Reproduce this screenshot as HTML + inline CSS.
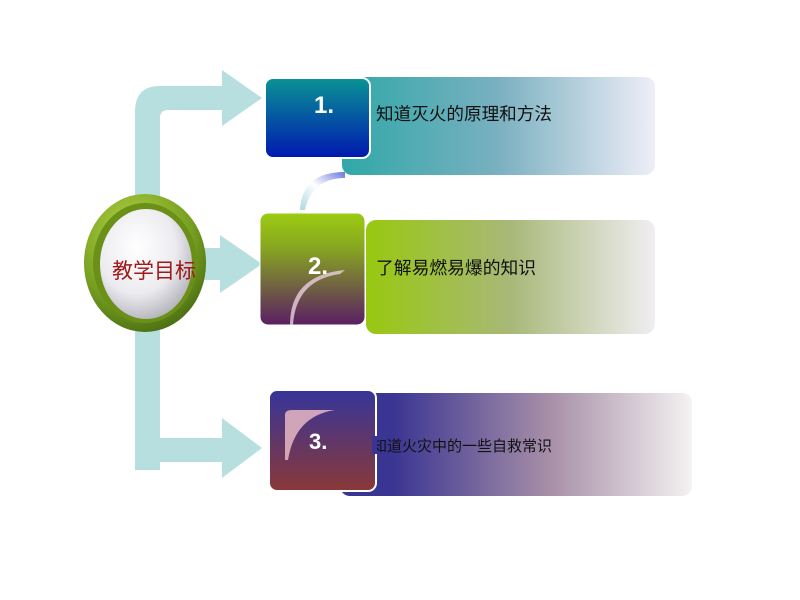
<!DOCTYPE html>
<html><head><meta charset="utf-8"><style>
body{margin:0;background:#fff;}
svg{display:block;}
text{font-family:"Liberation Sans","Noto Sans CJK SC",sans-serif;}
</style></head><body>
<svg width="800" height="600" viewBox="0 0 800 600" xmlns="http://www.w3.org/2000/svg">
<defs>
<linearGradient id="b1" x1="0" x2="1" y1="0" y2="0"><stop offset="0" stop-color="#30a8a8"/><stop offset="0.5" stop-color="#7ab0c0"/><stop offset="1" stop-color="#eeeef8"/></linearGradient>
<linearGradient id="b2" x1="0" x2="1" y1="0" y2="0"><stop offset="0" stop-color="#98c810"/><stop offset="0.5" stop-color="#a8b878"/><stop offset="1" stop-color="#f0eef2"/></linearGradient>
<linearGradient id="b3" x1="0" x2="1" y1="0" y2="0"><stop offset="0" stop-color="#3a3592"/><stop offset="0.15" stop-color="#3a3592"/><stop offset="0.6" stop-color="#a890a8"/><stop offset="1" stop-color="#f4f2f2"/></linearGradient>
<linearGradient id="t1" x1="0" x2="0" y1="0" y2="1"><stop offset="0" stop-color="#0a9494"/><stop offset="1" stop-color="#0018b0"/></linearGradient>
<linearGradient id="t2" x1="0" x2="0" y1="0" y2="1"><stop offset="0" stop-color="#9ccc10"/><stop offset="0.3" stop-color="#88a820"/><stop offset="1" stop-color="#5a1e62"/></linearGradient>
<linearGradient id="t3" x1="0" x2="0" y1="0" y2="1"><stop offset="0" stop-color="#36359a"/><stop offset="1" stop-color="#8a3838"/></linearGradient>
<radialGradient id="eg" cx="0.4" cy="0.35" r="0.7"><stop offset="0" stop-color="#ffffff"/><stop offset="0.6" stop-color="#ececf0"/><stop offset="1" stop-color="#b0b0b8"/></radialGradient>
<radialGradient id="rg" cx="0.4" cy="0.3" r="0.8"><stop offset="0" stop-color="#b8d848"/><stop offset="0.6" stop-color="#78a020"/><stop offset="1" stop-color="#3e6010"/></radialGradient>
<linearGradient id="cn" x1="0" x2="1" y1="1" y2="0"><stop offset="0" stop-color="#b0d8e0"/><stop offset="0.5" stop-color="#ffffff"/><stop offset="1" stop-color="#6878e0"/></linearGradient>
</defs>
<g fill="#b8dfe0">
<path d="M135 470 L135 112 Q135 86 160 86 L225 86 L225 110 L168 110 Q160 110 160 118 L160 470 Z"/>
<path d="M222 70 L262 98 L222 126 Z"/>
<rect x="190" y="248" width="34" height="32"/>
<path d="M220 235 L262 264 L220 293 Z"/>
<path d="M135 300 L135 440 Q135 462 158 462 L225 462 L225 438 L160 438 L160 300 Z"/>
<path d="M222 418 L262 448 L222 478 Z"/>
</g>
<ellipse cx="145" cy="263" rx="61" ry="69" fill="url(#rg)"/>
<ellipse cx="145" cy="263" rx="52" ry="60" fill="#6a9018"/>
<ellipse cx="146" cy="264" rx="46" ry="55" fill="url(#eg)"/>
<text x="112" y="278" font-size="21" fill="#a01818">教学目标</text>
<rect x="342" y="77" width="313" height="98" rx="10" fill="url(#b1)"/>
<rect x="265" y="78" width="105" height="80" rx="8" fill="url(#t1)" stroke="#fff" stroke-width="2"/>
<text x="314" y="113" font-size="24" font-weight="bold" fill="#fff">1.</text>
<text x="376" y="120" font-size="17.6" fill="#111">知道灭火的原理和方法</text>
<path d="M300 210 Q302 172 345 172 L345 178 Q312 178 305 210 Z" fill="url(#cn)"/>
<rect x="366" y="220" width="289" height="114" rx="10" fill="url(#b2)"/>
<rect x="260" y="213" width="105" height="112" rx="8" fill="url(#t2)" stroke="#fff" stroke-width="1"/>
<path d="M290 325 Q290 275 345 270 L340 274 Q296 280 293 325 Z" fill="#e8d0e0" opacity="0.8"/>
<text x="308" y="274" font-size="24" font-weight="bold" fill="#fff">2.</text>
<text x="376" y="274" font-size="17.8" fill="#111">了解易燃易爆的知识</text>
<rect x="340" y="393" width="352" height="103" rx="10" fill="url(#b3)"/>
<rect x="269" y="390" width="107" height="101" rx="8" fill="url(#t3)" stroke="#fff" stroke-width="2"/>
<path d="M285 460 L285 415 Q285 410 292 410 L335 410 Q295 416 288 460 Z" fill="#f0c0c8" opacity="0.8"/>
<text x="309" y="449" font-size="22" font-weight="bold" fill="#fff">3.</text>
<text x="372" y="451" font-size="15" fill="#111">知道火灾中的一些自救常识</text>
<rect x="372" y="436" width="5" height="18" fill="#3a3592"/>
</svg>
</body></html>
